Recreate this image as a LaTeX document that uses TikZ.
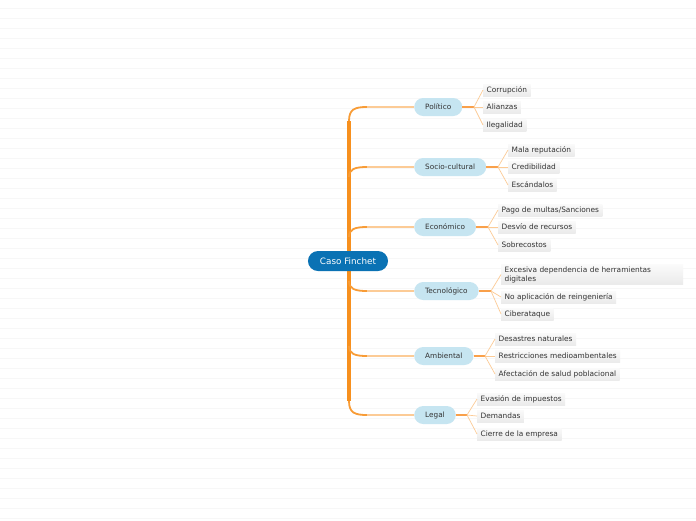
\documentclass[tikz,border=0pt]{standalone}
\usepackage{fontspec}
\setmainfont{DejaVu Sans}
\definecolor{trunkc}{HTML}{F7901E}
\definecolor{branchc}{HTML}{FCCB96}
\definecolor{stubc}{HTML}{F9A04A}
\definecolor{mainfill}{HTML}{C6E5F1}
\definecolor{centerfill}{HTML}{0A72B4}
\definecolor{txt}{HTML}{333333}
\begin{document}
\begin{tikzpicture}[x=1pt,y=-1pt,
  bgline/.style={draw=black!3,line width=0.8pt},
  centerbox/.style={rounded corners=10pt,fill=centerfill,text=white,font=\fontsize{8.8}{10}\selectfont,minimum height=20pt,inner xsep=12pt,inner ysep=0pt},
  mainbox/.style={rounded corners=9pt,fill=mainfill,text=txt,font=\fontsize{7.3}{8.5}\selectfont,minimum height=18pt,inner xsep=11pt,inner ysep=0pt,anchor=west},
  leafbox/.style={top color=gray!4,bottom color=gray!16,text=txt,font=\fontsize{7.4}{9}\selectfont,minimum height=12pt,inner xsep=3.5pt,inner ysep=1.5pt,anchor=west},
  trunkline/.style={draw=trunkc,line width=4pt},
  curveline/.style={draw=trunkc!80!branchc,line width=1.8pt},
  branchline/.style={draw=branchc,line width=1.3pt},
  stubline/.style={draw=stubc,line width=1.5pt},
  fanline/.style={draw=branchc,line width=0.7pt}
]
\useasboundingbox (0,0) rectangle (696,520);
\fill[white] (0,0) rectangle (696,520);
\foreach \yy in {8,18,...,518} \draw[bgline] (0,\yy) -- (696,\yy);

% trunk
\coordinate (ttop) at (349,121);
\coordinate (tbot) at (349,401);
\draw[trunkline] (ttop) -- (tbot);

% main nodes
\node[mainbox] (pol) at (414,107) {Político};
\node[mainbox] (soc) at (414,167) {Socio-cultural};
\node[mainbox] (eco) at (414,227) {Económico};
\node[mainbox] (tec) at (414,291) {Tecnológico};
\node[mainbox] (amb) at (414,356) {Ambiental};
\node[mainbox] (leg) at (414,415) {Legal};

% branches from trunk
\coordinate (bpol) at (367,107);
\coordinate (bsoc) at (367,167);
\coordinate (beco) at (367,227);
\coordinate (btec) at (367,291);
\coordinate (bamb) at (367,356);
\coordinate (bleg) at (367,415);
\draw[curveline] (ttop) .. controls (349,109) and (355,107) .. (bpol);
\draw[curveline] (349,177) .. controls (349,169) and (355,167) .. (bsoc);
\draw[curveline] (349,237) .. controls (349,229) and (355,227) .. (beco);
\draw[curveline] (349,281) .. controls (349,289) and (355,291) .. (btec);
\draw[curveline] (349,346) .. controls (349,354) and (355,356) .. (bamb);
\draw[curveline] (tbot) .. controls (349,413) and (355,415) .. (bleg);
\foreach \n in {pol,soc,eco,tec,amb,leg} \draw[branchline] (b\n) -- (\n.west);

% center node
\node[centerbox] (root) at (348,261) {Caso Finchet};

% Politico
\coordinate (fpol) at (474,107);
\draw[stubline] (pol.east) -- (fpol);
\node[leafbox] (p1) at (483,90) {Corrupción};
\node[leafbox] (p2) at (483,107) {Alianzas};
\node[leafbox] (p3) at (483,125) {Ilegalidad};
\foreach \l in {p1,p2,p3} \draw[fanline] (fpol) -- (\l.west);

% Socio-cultural
\coordinate (fsoc) at (498,167);
\draw[stubline] (soc.east) -- (fsoc);
\node[leafbox] (s1) at (508,150) {Mala reputación};
\node[leafbox] (s2) at (508,167) {Credibilidad};
\node[leafbox] (s3) at (508,185) {Escándalos};
\foreach \l in {s1,s2,s3} \draw[fanline] (fsoc) -- (\l.west);

% Economico
\coordinate (feco) at (488,227);
\draw[stubline] (eco.east) -- (feco);
\node[leafbox] (e1) at (498,210) {Pago de multas/Sanciones};
\node[leafbox] (e2) at (498,227) {Desvío de recursos};
\node[leafbox] (e3) at (498,245) {Sobrecostos};
\foreach \l in {e1,e2,e3} \draw[fanline] (feco) -- (\l.west);

% Tecnologico
\coordinate (ftec) at (491,291);
\draw[stubline] (tec.east) -- (ftec);
\node[leafbox,text width=175pt,align=left] (t1) at (501,274.5) {Excesiva dependencia de herramientas\\digitales};
\node[leafbox] (t2) at (501,297) {No aplicación de reingeniería};
\node[leafbox] (t3) at (501,314) {Ciberataque};
\foreach \l in {t1,t2,t3} \draw[fanline] (ftec) -- (\l.west);

% Ambiental
\coordinate (famb) at (485,356);
\draw[stubline] (amb.east) -- (famb);
\node[leafbox] (a1) at (495,339) {Desastres naturales};
\node[leafbox] (a2) at (495,356) {Restricciones medioambentales};
\node[leafbox] (a3) at (495,374) {Afectación de salud poblacional};
\foreach \l in {a1,a2,a3} \draw[fanline] (famb) -- (\l.west);

% Legal
\coordinate (fleg) at (467,415);
\draw[stubline] (leg.east) -- (fleg);
\node[leafbox] (g1) at (477,399) {Evasión de impuestos};
\node[leafbox] (g2) at (477,416) {Demandas};
\node[leafbox] (g3) at (477,434) {Cierre de la empresa};
\foreach \l in {g1,g2,g3} \draw[fanline] (fleg) -- (\l.west);
\end{tikzpicture}
\end{document}
